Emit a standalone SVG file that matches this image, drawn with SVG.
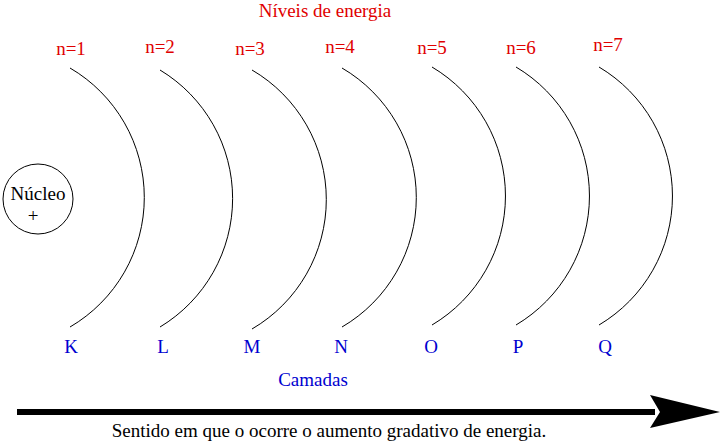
<svg xmlns="http://www.w3.org/2000/svg" width="726" height="442" viewBox="0 0 726 442" font-family="'Liberation Serif', 'Times New Roman', 'DejaVu Serif', serif">
<style>
text{font-family:'Liberation Serif','Times New Roman','DejaVu Serif',serif;font-size:19px}
.red{fill:#e00000}
.blue{fill:#0000d0}
.blk{fill:#000}
.arc{fill:none;stroke:#000;stroke-width:1}
</style>
<rect width="726" height="442" fill="#fff"/>
<text class="red" x="325" y="17" text-anchor="middle">Níveis de energia</text>
<g id="nucleo">
<circle cx="38" cy="199" r="35" fill="#fff" stroke="#000" stroke-width="1"/>
<text class="blk" x="38" y="200" text-anchor="middle">Núcleo</text>
<text class="blk" x="33" y="222" text-anchor="middle">+</text>
</g>
<g id="camada-K"><path class="arc" d="M70 68 A150 150 0 0 1 70 327"/><text class="red" x="71" y="55" text-anchor="middle">n=1</text><text class="blue" x="71" y="353" text-anchor="middle">K</text></g>
<g id="camada-L"><path class="arc" d="M160 70 A150 150 0 0 1 160 327"/><text class="red" x="160" y="53" text-anchor="middle">n=2</text><text class="blue" x="163" y="353" text-anchor="middle">L</text></g>
<g id="camada-M"><path class="arc" d="M252 70 A150 150 0 0 1 252 329"/><text class="red" x="250" y="55" text-anchor="middle">n=3</text><text class="blue" x="252" y="353" text-anchor="middle">M</text></g>
<g id="camada-N"><path class="arc" d="M342 68 A150 150 0 0 1 342 327"/><text class="red" x="340" y="53" text-anchor="middle">n=4</text><text class="blue" x="341" y="353" text-anchor="middle">N</text></g>
<g id="camada-O"><path class="arc" d="M432 67 A150 150 0 0 1 432 325"/><text class="red" x="432" y="54" text-anchor="middle">n=5</text><text class="blue" x="431" y="353" text-anchor="middle">O</text></g>
<g id="camada-P"><path class="arc" d="M516 67 A150 150 0 0 1 516 325"/><text class="red" x="521" y="54" text-anchor="middle">n=6</text><text class="blue" x="518" y="353" text-anchor="middle">P</text></g>
<g id="camada-Q"><path class="arc" d="M599 67 A150 150 0 0 1 599 325"/><text class="red" x="608" y="51" text-anchor="middle">n=7</text><text class="blue" x="605" y="353" text-anchor="middle">Q</text></g>
<text class="blue" x="313" y="386" text-anchor="middle">Camadas</text>
<g id="connectors">
<line x1="17" y1="412" x2="655" y2="412" stroke="#000" stroke-width="6"/>
<polygon points="650,395 720,412 650,428 660,412" fill="#000"/>
</g>
<text class="blk" x="329" y="437" text-anchor="middle">Sentido em que o ocorre o aumento gradativo de energia.</text>
</svg>
